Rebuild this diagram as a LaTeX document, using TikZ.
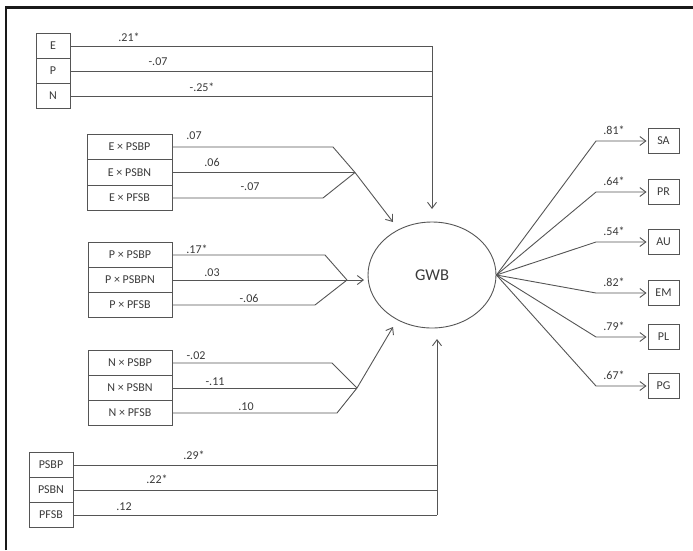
\documentclass[tikz,border=0pt]{standalone}
\usepackage{fontspec}
\setmainfont{Carlito}
\usetikzlibrary{arrows.meta,shapes.geometric}
\definecolor{ln}{HTML}{555555}
\definecolor{tx}{HTML}{3A3A3A}
\tikzset{
  conn/.style={draw=ln, line width=0.9pt},
  arr/.style={conn, -{Straight Barb[length=6pt,width=9pt,line width=0.9pt]}},
  vbox/.style={draw=ln, line width=0.9pt, rectangle, inner sep=0pt, text=tx,
    font=\fontsize{12}{14}\selectfont},
  coef/.style={text=tx, inner sep=0pt, font=\fontsize{12}{14}\selectfont},
  latent/.style={draw=ln, line width=0.9pt, ellipse, minimum width=128pt, minimum height=106pt,
    inner sep=0pt, text=tx, font=\fontsize{16.5}{18}\selectfont},
  frameline/.style={draw=black!90, line width=2.6pt}
}
\begin{document}
\begin{tikzpicture}[x=1pt,y=-1pt]
\useasboundingbox (0,0) rectangle (693,550);
\draw[frameline] (6,550) -- (6,7.5) -- (693,7.5);

% latent
\node[latent] (GWB) at (432,275) {GWB};

% top block
\node[vbox, minimum width=34pt, minimum height=25pt] (E) at (53,46) {E};
\node[vbox, minimum width=34pt, minimum height=25pt] (P) at (53,71) {P};
\node[vbox, minimum width=34pt, minimum height=25pt] (N) at (53,96) {N};
\coordinate (cE) at (432,46);
\coordinate (cP) at (432,71);
\coordinate (cN) at (432,96);
\coordinate (tTop) at (432,209);
\draw[conn] (E.east) -- (cE);
\draw[conn] (P.east) -- (cP);
\draw[conn] (N.east) -- (cN);
\draw[arr] (cE) -- (tTop);
\node[coef] (lE) at (129,37) {.21*};
\node[coef] (lP) at (158,62) {-.07};
\node[coef] (lN) at (202,87) {-.25*};

% E x block
\node[vbox, minimum width=85pt, minimum height=25.5pt] (EPSBP) at (129.5,147) {E × PSBP};
\node[vbox, minimum width=85pt, minimum height=25.5pt] (EPSBN) at (129.5,172.5) {E × PSBN};
\node[vbox, minimum width=85pt, minimum height=25.5pt] (EPFSB) at (129.5,198) {E × PFSB};
\coordinate (J1) at (355,172.5);
\coordinate (k1a) at (333,147);
\coordinate (k1b) at (323,198);
\coordinate (t1) at (393,222);
\draw[conn] (EPSBP.east) -- (k1a) -- (J1);
\draw[conn] (EPSBN.east) -- (J1);
\draw[conn] (EPFSB.east) -- (k1b) -- (J1);
\draw[arr] (J1) -- (t1);
\node[coef] (l1a) at (194,136) {.07};
\node[coef] (l1b) at (212,162) {.06};
\node[coef] (l1c) at (250,187) {-.07};

% P x block
\node[vbox, minimum width=84pt, minimum height=25pt] (PPSBP) at (130,255) {P × PSBP};
\node[vbox, minimum width=84pt, minimum height=25pt] (PPSBPN) at (130,280) {P × PSBPN};
\node[vbox, minimum width=84pt, minimum height=25pt] (PPFSB) at (130,305) {P × PFSB};
\coordinate (J2) at (347,280);
\coordinate (k2a) at (325,255);
\coordinate (k2b) at (315,305);
\coordinate (t2) at (364,280);
\draw[conn] (PPSBP.east) -- (k2a) -- (J2);
\draw[conn] (PPFSB.east) -- (k2b) -- (J2);
\draw[arr] (PPSBPN.east) -- (t2);
\node[coef] (l2a) at (197,249) {.17*};
\node[coef] (l2b) at (212,273) {.03};
\node[coef] (l2c) at (249,298) {-.06};

% N x block
\node[vbox, minimum width=84pt, minimum height=25pt] (NPSBP) at (130,363) {N × PSBP};
\node[vbox, minimum width=84pt, minimum height=25pt] (NPSBN) at (130,388) {N × PSBN};
\node[vbox, minimum width=84pt, minimum height=25pt] (NPFSB) at (130,413) {N × PFSB};
\coordinate (J3) at (357,388);
\coordinate (k3a) at (332,363);
\coordinate (k3b) at (337,413);
\coordinate (t3) at (393,327);
\draw[conn] (NPSBP.east) -- (k3a) -- (J3);
\draw[conn] (NPSBN.east) -- (J3);
\draw[conn] (NPFSB.east) -- (k3b) -- (J3);
\draw[arr] (J3) -- (t3);
\node[coef] (l3a) at (196,356) {-.02};
\node[coef] (l3b) at (215,382) {-.11};
\node[coef] (l3c) at (246,407) {.10};

% bottom block
\node[vbox, minimum width=44pt, minimum height=25pt] (PSBP) at (51,465) {PSBP};
\node[vbox, minimum width=44pt, minimum height=25pt] (PSBN) at (51,490) {PSBN};
\node[vbox, minimum width=44pt, minimum height=25pt] (PFSB) at (51,515) {PFSB};
\coordinate (c5a) at (437,465);
\coordinate (c5b) at (437,490);
\coordinate (c5c) at (437,515);
\coordinate (t5) at (437,339);
\draw[conn] (PSBP.east) -- (c5a);
\draw[conn] (PSBN.east) -- (c5b);
\draw[conn] (PFSB.east) -- (c5c);
\draw[arr] (c5c) -- (t5);
\node[coef] (l5a) at (194,455) {.29*};
\node[coef] (l5b) at (157,479) {.22*};
\node[coef] (l5c) at (124,507) {.12};

% indicators
\foreach \nm/\yy/\cf in {SA/141/.81*, PR/192/.64*, AU/242/.54*, EM/293/.82*, PL/337/.79*, PG/386/.67*}{
  \node[vbox, minimum width=31pt, minimum height=25pt] (\nm) at (663.5,\yy) {\nm};
  \coordinate (e\nm) at (596,\yy);
  \draw[arr] (GWB.east) -- (e\nm) -- ([xshift=-1pt]\nm.west);
  \node[coef] (c\nm) at (614,\yy-11) {\cf};
}
\end{tikzpicture}
\end{document}
